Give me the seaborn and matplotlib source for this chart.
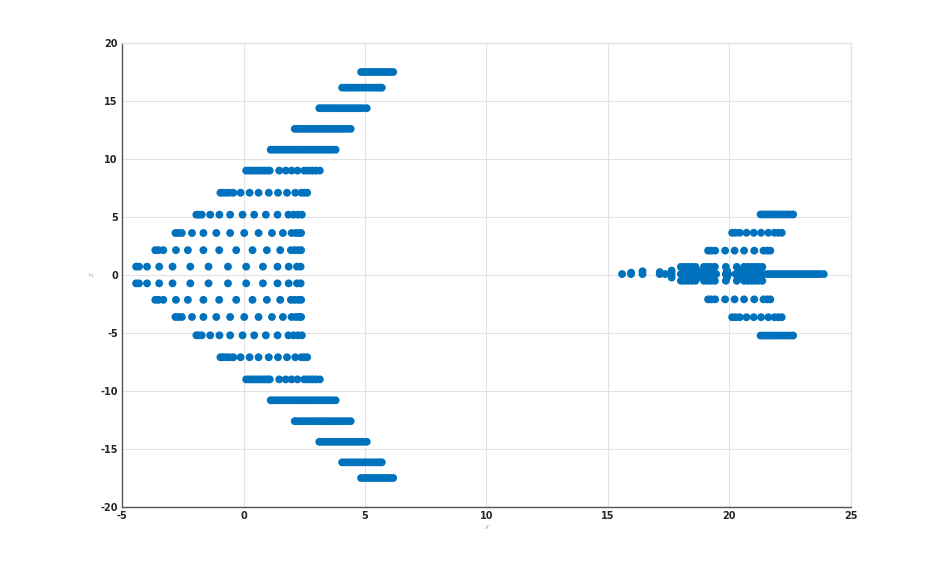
import matplotlib
matplotlib.use("Agg")
import matplotlib.pyplot as plt
import seaborn as sns
import pandas as pd

# ---------------- data ----------------
# left structure: rows mirrored at +y / -y
left_row_y = [0.72, 2.14, 3.62, 5.2, 7.09, 9.0, 10.8, 12.6, 14.38, 16.15, 17.5]
left_x_r1 = [-4.42, -4.3, -3.97, -3.47, -2.92, -2.19, -1.44, -0.64, 0.11, 0.80, 1.40, 1.86, 2.2, 2.35]
left_x_r2 = [-3.63, -3.5, -3.3, -2.78, -2.29, -1.65, -1.0, -0.3, 0.37, 0.96, 1.51, 1.95, 2.1, 2.25, 2.37]
left_x_r3 = [-2.8, -2.68, -2.54, -2.12, -1.65, -1.12, -0.55, 0.03, 0.62, 1.17, 1.62, 1.98, 2.15, 2.28, 2.37]
left_x_r4 = [-1.94, -1.84, -1.72, -1.37, -0.99, -0.55, -0.04, 0.44, 0.92, 1.40, 1.85, 2.06, 2.24, 2.4]
left_x_r5 = [-0.95, -0.85, -0.72, -0.58, -0.42, -0.12, 0.25, 0.62, 1.04, 1.42, 1.79, 2.13, 2.38, 2.5, 2.62]
left_x_r6 = [0.11, 0.22, 0.33, 0.44, 0.55, 0.66, 0.77, 0.88, 0.98, 1.08, 1.47, 1.74, 1.98, 2.22,
             2.5, 2.62, 2.74, 2.86, 2.98, 3.14]
left_x_r7 = [1.12, 1.24, 1.36, 1.48, 1.6, 1.72, 1.84, 1.96, 2.08, 2.2, 2.32, 2.44, 2.56, 2.68,
             2.8, 2.92, 3.04, 3.16, 3.28, 3.4, 3.52, 3.64, 3.79]
left_x_r8 = [2.11, 2.23, 2.35, 2.47, 2.59, 2.71, 2.83, 2.95, 3.07, 3.19, 3.31, 3.43, 3.55, 3.67,
             3.79, 3.91, 4.03, 4.15, 4.27, 4.41]
left_x_r9 = [3.12, 3.24, 3.36, 3.48, 3.6, 3.72, 3.84, 3.96, 4.08, 4.2, 4.32, 4.44, 4.56, 4.68,
             4.8, 4.92, 5.07]
left_x_r10 = [4.06, 4.18, 4.3, 4.42, 4.54, 4.66, 4.78, 4.9, 5.02, 5.14, 5.26, 5.38, 5.5, 5.6, 5.69]
left_x_r11 = [4.84, 4.96, 5.08, 5.2, 5.32, 5.44, 5.56, 5.68, 5.8, 5.92, 6.04, 6.16]

# right structure: outer rows mirrored at +y / -y
right_row_y = [2.1, 3.64, 5.22]
right_x_r1 = [19.12, 19.25, 19.41, 19.82, 20.21, 20.6, 21.02, 21.4, 21.55, 21.68]
right_x_r2 = [20.11, 20.25, 20.42, 20.7, 21.0, 21.3, 21.6, 21.85, 22.0, 22.15]
right_x_r3 = [21.28, 21.4, 21.52, 21.64, 21.76, 21.88, 22.0, 22.12, 22.24, 22.36, 22.48, 22.62]

# right structure: central band
center_y = 0.08
center_x = [15.58, 15.95, 16.42, 17.13, 17.35, 17.62, 18.0, 18.1, 18.2, 18.3, 18.4, 18.5,
            18.6, 18.7, 18.8, 18.95, 19.05, 19.15, 19.25, 19.35, 19.45, 19.85, 19.95, 20.25, 20.4,
            20.6, 20.7, 20.8, 20.9, 21.0, 21.1, 21.2, 21.3, 21.4, 21.56, 21.68, 21.8, 21.92, 22.04,
            22.16, 22.28, 22.4, 22.52, 22.64, 22.76, 22.88, 23.0, 23.12, 23.24, 23.36, 23.48, 23.6,
            23.72, 23.88]
band_y = [0.7, 0.35, -0.2, -0.5]
band_x_outer = [18.0, 18.15, 18.3, 18.45, 18.6, 18.95, 19.1, 19.25, 19.4, 19.85, 20.3, 20.6, 20.75,
                20.9, 21.05, 21.2, 21.35]
band_x_inner = [18.1, 18.4, 18.7, 19.0, 19.3, 19.9, 20.4, 20.65, 20.95, 21.25]
extra_x = [15.95, 16.42, 17.13, 17.62, 17.62]
extra_y = [0.2, 0.32, 0.25, 0.38, -0.22]

x_ticks = [-5, 0, 5, 10, 15, 20, 25]
y_ticks = [-20, -15, -10, -5, 0, 5, 10, 15, 20]

# ---------------- build the table ----------------
xs, zs = [], []
left_rows = [left_x_r1, left_x_r2, left_x_r3, left_x_r4, left_x_r5, left_x_r6,
             left_x_r7, left_x_r8, left_x_r9, left_x_r10, left_x_r11]
for yv, row in zip(left_row_y, left_rows):
    for sgn in (1, -1):
        xs += row
        zs += [sgn * yv] * len(row)
for yv, row in zip(right_row_y, [right_x_r1, right_x_r2, right_x_r3]):
    for sgn in (1, -1):
        xs += row
        zs += [sgn * yv] * len(row)
xs += center_x
zs += [center_y] * len(center_x)
for yv, row in zip(band_y, [band_x_outer, band_x_inner, band_x_inner, band_x_outer]):
    xs += row
    zs += [yv] * len(row)
xs += extra_x
zs += extra_y
df = pd.DataFrame({"x": xs, "z": zs})

# ---------------- draw ----------------
sns.set_theme(style="white")
plt.rcParams["font.family"] = ["DejaVu Sans"]
fig = plt.figure(figsize=(9.4, 5.68), dpi=100)
ax = fig.add_axes([0.1298, 0.1074, 0.7755, 0.8169])

sns.scatterplot(data=df, x="x", y="z", color="#0072BD", s=32, linewidth=0,
                edgecolor="none", ax=ax, zorder=3)

ax.set_xlim(-5, 25)
ax.set_ylim(-20, 20)
ax.set_xticks(x_ticks)
ax.set_yticks(y_ticks)
ax.set_xticklabels([str(t) for t in x_ticks], fontsize=7, fontweight="bold", color="#262626")
ax.set_yticklabels([str(t) for t in y_ticks], fontsize=7, fontweight="bold", color="#262626")
ax.grid(True, color="#e3e3e3", linewidth=0.8, zorder=0)
ax.set_axisbelow(True)
ax.tick_params(axis="both", direction="in", length=4, width=0.8, color="#262626", pad=3,
               top=False, right=False)
for side in ("left", "bottom"):
    ax.spines[side].set_color("#555555")
    ax.spines[side].set_linewidth(1.0)
for side in ("top", "right"):
    ax.spines[side].set_color("#e3e3e3")
    ax.spines[side].set_linewidth(1.0)
ax.set_xlabel("x", fontsize=5, style="italic", color="#aaaaaa", labelpad=2)
ax.set_ylabel("z", fontsize=5, style="italic", color="#aaaaaa", labelpad=4)

fig.savefig("out.png", dpi=100, facecolor="white")
